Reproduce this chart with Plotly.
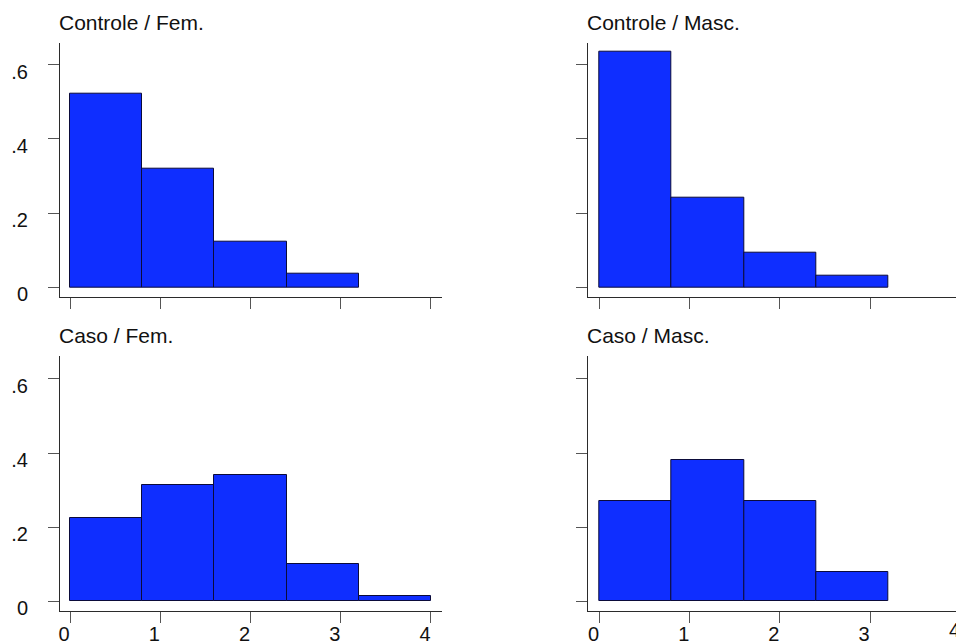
import plotly.graph_objects as go

# Histogram bins (shared by all four panels) and fraction per bin
bin_edges = [0.0, 0.8, 1.6, 2.4, 3.2, 4.0]
controle_fem = [0.522, 0.319, 0.122, 0.036]
controle_masc = [0.634, 0.241, 0.093, 0.032]
caso_fem = [0.226, 0.314, 0.342, 0.102, 0.015]
caso_masc = [0.270, 0.381, 0.270, 0.079]

panel_titles = ["Controle / Fem.", "Controle / Masc.", "Caso / Fem.", "Caso / Masc."]
x_ticks = [0, 1, 2, 3, 4]
y_ticks = [0, 0.2, 0.4, 0.6]
y_tick_text = ["0", ".2", ".4", ".6"]

W, H = 956, 642
FONT = "Liberation Sans, Arial, sans-serif"
BAR_FILL = "#0f2eff"
BAR_LINE = "#0b0b3a"
AXIS = "#2b2b2b"

# panel boxes in pixels: (left, right, top, bottom)
cols = [(60.0, 441.7), (588.3, 956.0)]
rows = [(42.7, 296.7), (356.0, 611.4)]
x_ranges = [[-0.111, 4.119], [-0.124, 3.952]]
y_ranges = [[-0.025, 0.659], [-0.027, 0.662]]

series = [controle_fem, controle_masc, caso_fem, caso_masc]

fig = go.Figure()
annotations = []
for i, vals in enumerate(series):
    r, c = divmod(i, 2)
    n = "" if i == 0 else str(i + 1)
    xa, ya = "x" + n, "y" + n
    lefts = bin_edges[:len(vals)]
    widths = [bin_edges[k + 1] - bin_edges[k] for k in range(len(vals))]
    centers = [lefts[k] + widths[k] / 2 for k in range(len(vals))]
    fig.add_trace(go.Bar(
        x=centers, y=vals, width=widths, xaxis=xa, yaxis=ya,
        marker=dict(color=BAR_FILL, line=dict(color=BAR_LINE, width=1)),
        showlegend=False, hoverinfo="x+y",
    ))
    (x0, x1), (y0, y1) = cols[c], rows[r]
    common = dict(showgrid=False, zeroline=False, showline=True, linecolor=AXIS,
                  linewidth=1, ticks="outside", tickcolor="#555555", tickwidth=1,
                  ticklen=11, tickfont=dict(family=FONT, size=20, color="#111111"))
    fig.update_layout(**{
        ("xaxis" + n): dict(domain=[x0 / W, x1 / W], range=x_ranges[c], anchor=ya,
                            tickvals=x_ticks, ticktext=[str(t) for t in x_ticks],
                            showticklabels=(r == 1), ticklabelshift=-6,
                            ticklabelstandoff=-6, **common),
        ("yaxis" + n): dict(domain=[1 - y1 / H, 1 - y0 / H], range=y_ranges[r], anchor=xa,
                            tickvals=y_ticks, ticktext=y_tick_text,
                            showticklabels=(c == 0), ticklabelshift=7,
                            ticklabelstandoff=16, **common),
    })
    annotations.append(dict(
        text=panel_titles[i], xref=xa + " domain", yref=ya + " domain",
        x=0, y=1, xanchor="left", yanchor="middle", xshift=-3, yshift=20,
        showarrow=False, font=dict(family=FONT, size=21, color="#111111"),
    ))

# tick label "4" of the lower-right axis sits just past the figure edge
r0, r1 = x_ranges[1]
annotations.append(dict(
    text=str(x_ticks[-1]), xref="x4 domain", yref="y4 domain",
    x=(x_ticks[-1] - r0) / (r1 - r0), y=0, xanchor="center", yanchor="top",
    xshift=-6, yshift=-6, showarrow=False,
    font=dict(family=FONT, size=20, color="#111111"),
))

fig.update_layout(
    width=W, height=H,
    margin=dict(l=0, r=0, t=0, b=0, autoexpand=False),
    paper_bgcolor="white", plot_bgcolor="white",
    bargap=0, annotations=annotations,
)

fig.write_html("out.html")
